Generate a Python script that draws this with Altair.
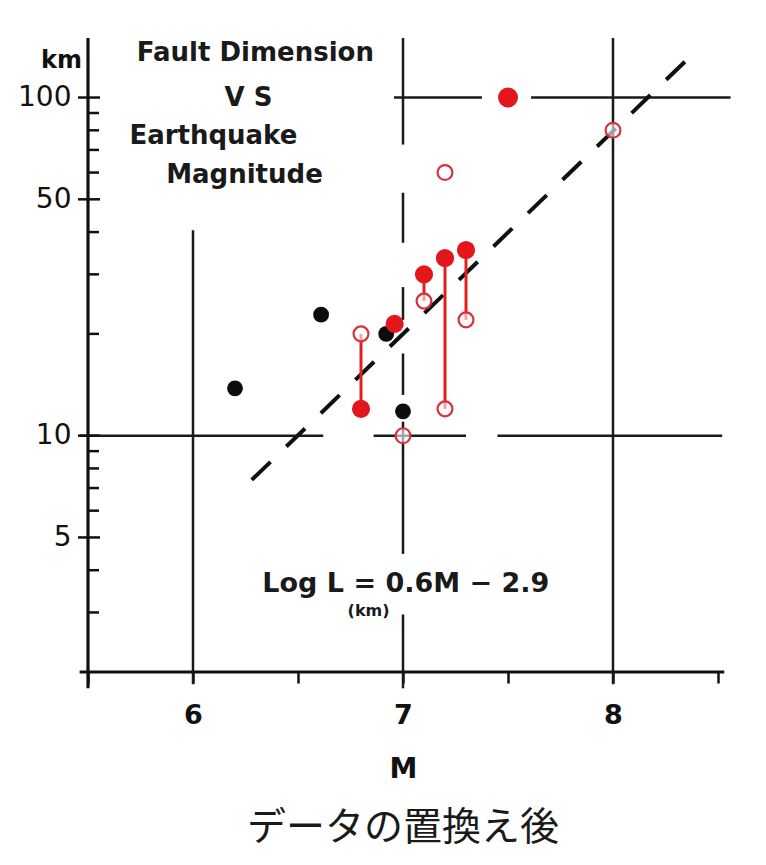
import altair as alt
import pandas as pd

# ---- data ----
black_M = [6.2, 6.61, 6.92, 7.0]
black_L = [13.8, 22.8, 20.0, 11.8]

red_filled_M = [6.8, 6.96, 7.1, 7.2, 7.3, 7.5]
red_filled_L = [12.0, 21.4, 30.0, 33.5, 35.4, 100.0]
red_filled_S = [330, 330, 330, 330, 330, 400]

red_open_M = [6.8, 7.0, 7.1, 7.2, 7.3, 7.2, 8.0]
red_open_L = [20.0, 10.0, 25.0, 12.0, 22.0, 60.0, 80.0]

conn_M = [6.8, 7.1, 7.2, 7.3]
conn_L1 = [12.0, 30.0, 33.5, 35.4]
conn_L2 = [20.0, 25.0, 12.0, 22.0]

fit_M = [6.28, 8.35]
fit_L = [7.4, 129.0]

# grid segments (broken lines of the original figure)
hseg_L = [100, 100, 10, 10, 10]
hseg_M1 = [6.957, 7.61, 5.46, 6.86, 7.45]
hseg_M2 = [7.376, 8.56, 6.62, 7.30, 8.52]

vseg_M = [6, 7, 7, 7, 7, 7, 7, 8]
vseg_L1 = [40.5, 150.0, 52.3, 27.5, 17.5, 11.0, 2.96, 150.0]
vseg_L2 = [1.84, 72.6, 37.2, 22.0, 13.2, 4.47, 1.79, 1.84]

# axis lines
axis_x1 = [5.5, 5.46]
axis_x2 = [5.5, 8.53]
axis_y1 = [150.0, 2.0]
axis_y2 = [1.79, 2.0]

ytick_minor = [90, 80, 70, 60, 40, 30, 20, 9, 8, 7, 6, 4, 3]
ytick_major = [100, 50, 10, 5]
ylabel_vals = [5, 10, 50, 100]
xtick_vals = [5.5, 6, 6.5, 7, 7.5, 8, 8.5]

title_lines = ["Fault Dimension", "V S", "Earthquake", "Magnitude"]
title_M = [6.297, 6.264, 6.097, 6.245]
title_L = [135.0, 100.0, 77.0, 59.0]

eq_text = ["Log L = 0.6M − 2.9"]
eq_M = [6.33]
eq_L = [3.64]
sub_text = ["(km)"]
sub_M = [6.836]
sub_L = [3.03]

caption = "データの置換え後"

# ---- scales/axes ----
xs = alt.Scale(domain=[5.5, 8.5], nice=False, zero=False)
ys = alt.Scale(type="log", domain=[2, 150], nice=False)
FONT = "DejaVu Sans"

xaxis = alt.Axis(
    values=xtick_vals,
    labelExpr="datum.value % 1 === 0 ? format(datum.value, 'd') : ''",
    domain=False, grid=False, ticks=True, tickSize=11, tickWidth=2.5,
    tickColor="#111", labelFont=FONT, labelFontWeight="bold",
    labelFontSize=27, labelColor="#111", labelPadding=19,
    title="M", titleFont=FONT, titleFontSize=28, titleFontWeight="bold",
    titleColor="#111", titlePadding=27,
)
yaxis = alt.Axis(
    values=ylabel_vals, format="d", domain=False, grid=False, ticks=False,
    labelFont=FONT, labelFontSize=28, labelColor="#111", labelPadding=17,
    title="km", titleAngle=0, titleX=-27, titleY=22, titleAlign="center",
    titleBaseline="middle", titleFont=FONT, titleFontSize=24,
    titleFontWeight="bold", titleColor="#111",
)


def X(f):
    return alt.X(f, type="quantitative", scale=xs, axis=xaxis)


def Y(f):
    return alt.Y(f, type="quantitative", scale=ys, axis=yaxis)


hdf = pd.DataFrame({"L": hseg_L, "M1": hseg_M1, "M2": hseg_M2})
vdf = pd.DataFrame({"M": vseg_M, "L1": vseg_L1, "L2": vseg_L2})
adf = pd.DataFrame({"M1": axis_x1, "M2": axis_x2, "L1": axis_y1, "L2": axis_y2})

hgrid = alt.Chart(hdf).mark_rule(color="#1a1a1a", strokeWidth=2.5).encode(
    x=X("M1"), x2="M2", y=Y("L"))
vgrid = alt.Chart(vdf).mark_rule(color="#1a1a1a", strokeWidth=2.5).encode(
    x=X("M"), y=Y("L1"), y2="L2")
axes = alt.Chart(adf).mark_rule(color="#111", strokeWidth=3.2).encode(
    x=X("M1"), x2="M2", y=Y("L1"), y2="L2")

tminor = alt.Chart(pd.DataFrame({"L": ytick_minor})).mark_rule(
    color="#111", strokeWidth=2.5).encode(
    y=Y("L"), x=alt.value(0), x2=alt.value(11))
tmajor = alt.Chart(pd.DataFrame({"L": ytick_major})).mark_rule(
    color="#111", strokeWidth=2.5).encode(
    y=Y("L"), x=alt.value(-10), x2=alt.value(12))

fit = alt.Chart(pd.DataFrame({"M": fit_M, "L": fit_L})).mark_line(
    color="#111", strokeWidth=4, strokeDash=[26, 22]).encode(
    x=X("M"), y=Y("L"))

conn = alt.Chart(pd.DataFrame({"M": conn_M, "L1": conn_L1, "L2": conn_L2})).mark_rule(
    color="#e02020", strokeWidth=3).encode(x=X("M"), y=Y("L1"), y2="L2")

black = alt.Chart(pd.DataFrame({"M": black_M, "L": black_L})).mark_circle(
    color="#0d0d0d", size=250, opacity=1).encode(x=X("M"), y=Y("L"))
redf = alt.Chart(pd.DataFrame({"M": red_filled_M, "L": red_filled_L,
                               "S": red_filled_S})).mark_circle(
    color="#e3161b", opacity=1).encode(
    x=X("M"), y=Y("L"), size=alt.Size("S:Q", scale=None, legend=None))
redo = alt.Chart(pd.DataFrame({"M": red_open_M, "L": red_open_L})).mark_point(
    shape="circle", filled=False, fill="white", fillOpacity=0.6, stroke="#d8323c",
    strokeWidth=2.2, size=220, opacity=1).encode(x=X("M"), y=Y("L"))

ttl = alt.Chart(pd.DataFrame({"t": title_lines, "M": title_M, "L": title_L})).mark_text(
    font=FONT, fontSize=26, fontWeight="bold", color="#1a1a1a",
    align="center", baseline="middle").encode(x=X("M"), y=Y("L"), text="t:N")
eq = alt.Chart(pd.DataFrame({"t": eq_text, "M": eq_M, "L": eq_L})).mark_text(
    font=FONT, fontSize=27, fontWeight="bold", color="#1a1a1a",
    align="left", baseline="middle").encode(x=X("M"), y=Y("L"), text="t:N")
sub = alt.Chart(pd.DataFrame({"t": sub_text, "M": sub_M, "L": sub_L})).mark_text(
    font=FONT, fontSize=16, fontWeight="bold", color="#1a1a1a",
    align="center", baseline="middle").encode(x=X("M"), y=Y("L"), text="t:N")

chart = alt.layer(
    hgrid, vgrid, axes, tminor, tmajor, fit, conn, black, redf, redo, ttl, eq, sub
).properties(
    width=630, height=634,
    autosize=alt.AutoSizeParams(type="none"),
    padding={"left": 80, "top": 30, "right": 20, "bottom": 185},
    title=alt.TitleParams(
        text=caption, orient="bottom", anchor="middle",
        font="Noto Sans CJK JP", fontSize=39, fontWeight="normal",
        color="#1a1a1a", offset=26),
    background="white",
).configure_view(stroke=None)

chart.save("out.html", embed_options={"renderer": "svg", "actions": False})
